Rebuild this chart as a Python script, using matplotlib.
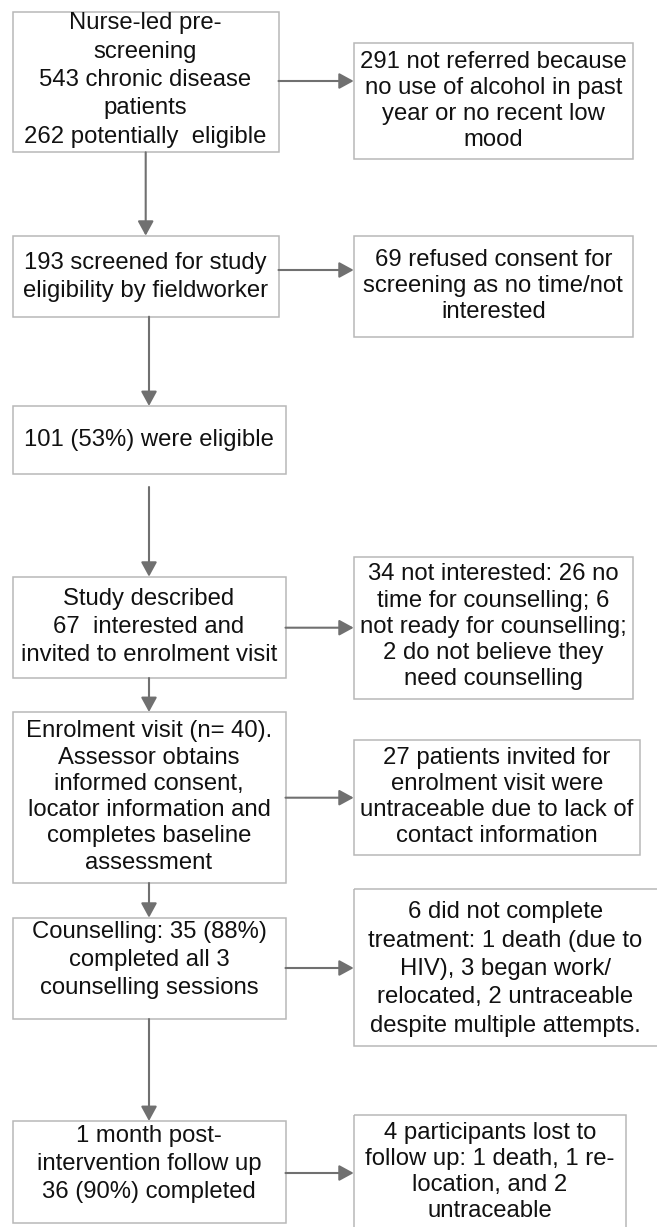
import matplotlib.pyplot as plt
from matplotlib.patches import Rectangle

plt.rcParams['font.family'] = ['Liberation Sans', 'DejaVu Sans']

# -- flow boxes (main column) and exclusion boxes (right column)
main_text = [
    "Nurse-led pre-\nscreening\n543 chronic disease\npatients\n262 potentially  eligible",
    "193 screened for study\neligibility by fieldworker",
    "101 (53%) were eligible",
    "Study described\n67  interested and\ninvited to enrolment visit",
    "Enrolment visit (n= 40).\nAssessor obtains\ninformed consent,\nlocator information and\ncompletes baseline\nassessment",
    "Counselling: 35 (88%)\ncompleted all 3\ncounselling sessions",
    "1 month post-\nintervention follow up\n36 (90%) completed",
]
side_text = [
    "291 not referred because\nno use of alcohol in past\nyear or no recent low\nmood",
    "69 refused consent for\nscreening as no time/not\ninterested",
    None,
    "34 not interested: 26 no\ntime for counselling; 6\nnot ready for counselling;\n2 do not believe they\nneed counselling",
    "27 patients invited for\nenrolment visit were\nuntraceable due to lack of\ncontact information",
    "6 did not complete\ntreatment: 1 death (due to\nHIV), 3 began work/\nrelocated, 2 untraceable\ndespite multiple attempts.",
    "4 participants lost to\nfollow up: 1 death, 1 re-\nlocation, and 2\nuntraceable",
]

# -- layout (pixels, y downwards)
main_x0 = [12.5, 12.5, 12.5, 12.5, 12.5, 12.5, 12.5]
main_x1 = [278.5, 278.5, 285.5, 285.5, 285.5, 285.5, 285.5]
main_y0 = [11.7, 235.7, 406, 576.7, 712, 917.7, 1121]
main_y1 = [152.3, 316.7, 474, 678, 883, 1019, 1222.7]
main_ty = [80, 277, 440, 627, 797, 960, 1164]
main_ls = [1.37, 1.37, 1.37, 1.37, 1.25, 1.37, 1.37]

side_x0 = 353.7
side_x1 = [633, 633, None, 633, 640.3, 662, 626]
side_y0 = [43.3, 235.7, None, 556.7, 740, 889.3, 1114.7]
side_y1 = [159.3, 337.3, None, 699.3, 855, 1046, 1240]
side_ty = [101, 286, None, 627, 797, 969, 1172]
side_ls = [1.25, 1.25, None, 1.25, 1.25, 1.37, 1.25]
arrow_y = [81, 270, None, 627.7, 797.7, 968, 1173]

# vertical arrows between main boxes: (x, y_start, y_end)
down_x = [145.7, 149, 149, 149, 149, 149]
down_start = [152.3, 316.7, 487, 678, 883, 1019]
down_end = [235.7, 406, 576.7, 712, 917.7, 1121]

W, H = 657, 1227
fig = plt.figure(figsize=(W / 100, H / 100), dpi=100)
ax = fig.add_axes([0, 0, 1, 1])
ax.set_xlim(0, W)
ax.set_ylim(H, 0)
ax.axis('off')

edge = '#b8b8b8'
arrc = '#707070'
fs = 17.2


def arrow(x0, y0, x1, y1):
    ax.annotate('', xy=(x1, y1), xytext=(x0, y0),
                arrowprops=dict(arrowstyle='-|>,head_length=0.55,head_width=0.3',
                                color=arrc, lw=1.5, mutation_scale=16,
                                shrinkA=0, shrinkB=0))


for i in range(len(main_text)):
    ax.add_patch(Rectangle((main_x0[i], main_y0[i]), main_x1[i] - main_x0[i],
                           main_y1[i] - main_y0[i], fill=False, ec=edge, lw=1.1))
    cx = (main_x0[i] + main_x1[i]) / 2
    ax.text(cx, main_ty[i], main_text[i], ha='center', va='center',
            fontsize=fs, linespacing=main_ls[i], color='#111111')

    if side_text[i] is None:
        continue
    ax.add_patch(Rectangle((side_x0, side_y0[i]), side_x1[i] - side_x0,
                           side_y1[i] - side_y0[i], fill=False, ec=edge, lw=1.1))
    sx = (side_x0 + min(side_x1[i], 657)) / 2
    ax.text(sx, side_ty[i], side_text[i], ha='center', va='center',
            fontsize=fs, linespacing=side_ls[i], color='#111111')
    arrow(main_x1[i], arrow_y[i], side_x0, arrow_y[i])

for i in range(len(down_x)):
    arrow(down_x[i], down_start[i], down_x[i], down_end[i])

fig.savefig('out.png', dpi=100)
